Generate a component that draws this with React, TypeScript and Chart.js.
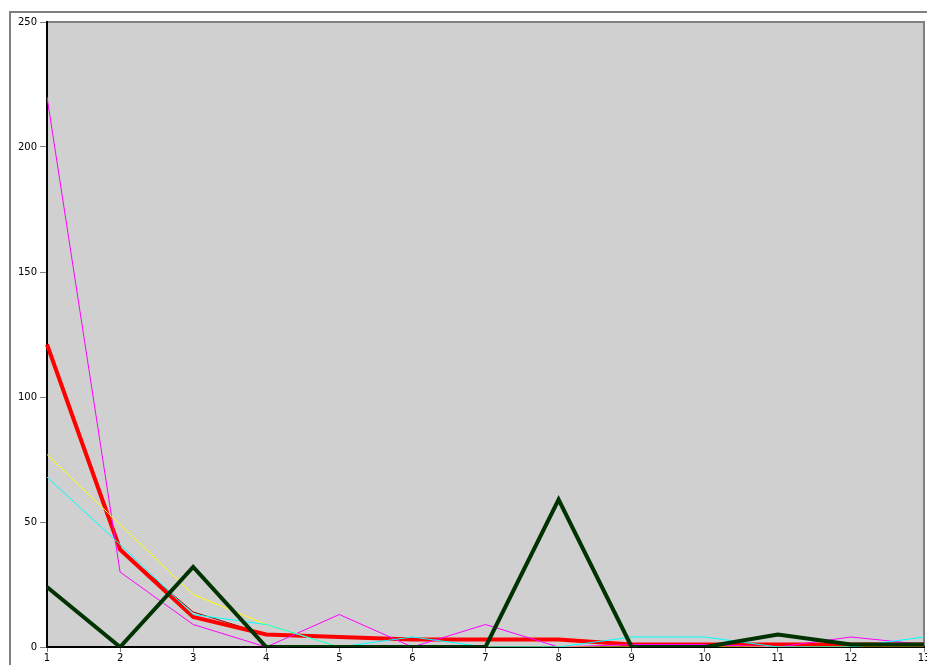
import React, { useEffect, useRef } from "react";
import { Chart, registerables } from "chart.js";

Chart.register(...registerables);

const categories = ["1", "2", "3", "4", "5", "6", "7", "8", "9", "10", "11", "12", "13"];
const yTicks = [0, 50, 100, 150, 200, 250];

const magentaValues = [220, 30, 9, 0, 13, 0, 9, 0, 1, 1, 0, 4, 1];
const yellowValues = [77, 49, 21, 9, 0, 0, 0, 0, 0, 0, 0, 0, 0];
const cyanValues = [68, 41, 13, 9, 0, 4, 0, 0, 4, 4, 0, 0, 4];
const darkRedValues = [121, 39, 14, 5, 4, 3, 3, 3, 1, 1, 1, 1, 1];
const redValues = [121, 39, 12, 5, 4, 3, 3, 3, 1, 1, 1, 1, 1];
const greenValues = [24, 0, 32, 0, 0, 0, 0, 59, 0, 0, 5, 1, 1];

const plotFrame = {
  id: "plotFrame",
  beforeDraw(chart: any) {
    const { ctx, chartArea } = chart;
    ctx.save();
    ctx.fillStyle = "#d0d0d0";
    ctx.fillRect(chartArea.left, chartArea.top, chartArea.right - chartArea.left, chartArea.bottom - chartArea.top);
    ctx.strokeStyle = "#808080";
    ctx.lineWidth = 2;
    ctx.beginPath();
    ctx.moveTo(chartArea.left, chartArea.top);
    ctx.lineTo(chartArea.right, chartArea.top);
    ctx.lineTo(chartArea.right, chartArea.bottom);
    ctx.stroke();
    ctx.restore();
  },
};

export default function App() {
  const ref = useRef<HTMLCanvasElement | null>(null);

  useEffect(() => {
    if (!ref.current) return;
    const mk = (data: number[], color: string, width: number, order: number) => ({
      data,
      borderColor: color,
      backgroundColor: color,
      borderWidth: width,
      pointRadius: 0,
      tension: 0,
      fill: false,
      order,
    });
    const chart = new Chart(ref.current, {
      type: "line",
      data: {
        labels: categories,
        datasets: [
          mk(greenValues, "#003300", 4, 0),
          mk(cyanValues, "#00ffff", 1, 1),
          mk(yellowValues, "#ffff00", 1, 2),
          mk(magentaValues, "#ff00ff", 1, 3),
          mk(redValues, "#ff0000", 4, 5),
          mk(darkRedValues, "#8b0000", 1, 6),
        ] as any,
      },
      options: {
        animation: false,
        responsive: false,
        devicePixelRatio: 1,
        layout: { padding: { top: 22, right: 3, bottom: 0, left: 0 } },
        plugins: { legend: { display: false }, tooltip: { enabled: false } },
        scales: {
          x: {
            type: "category",
            offset: false,
            grid: { drawOnChartArea: false, tickLength: 5, tickColor: "#808080" },
            border: { color: "#000000", width: 2 },
            ticks: {
              color: "#000",
              font: { family: "DejaVu Sans", size: 10 },
              padding: 0,
              maxRotation: 0,
              autoSkip: false,
            },
            afterFit(scale: any) {
              scale.height = 18;
              scale.paddingLeft = 0;
              scale.paddingRight = 0;
            },
          },
          y: {
            type: "linear",
            min: 0,
            max: 250,
            afterBuildTicks(scale: any) {
              scale.ticks = yTicks.map((v) => ({ value: v }));
            },
            grid: { drawOnChartArea: false, tickLength: 7, tickColor: "#808080" },
            border: { color: "#000000", width: 2 },
            ticks: {
              color: "#000",
              font: { family: "DejaVu Sans", size: 10 },
              padding: 3,
            },
            afterFit(scale: any) {
              scale.width = 47;
              scale.paddingTop = 0;
              scale.paddingBottom = 0;
            },
          },
        },
      },
      plugins: [plotFrame],
    });
    return () => chart.destroy();
  }, []);

  return (
    <div
      style={{
        position: "fixed",
        left: 0,
        top: 0,
        width: 927,
        height: 665,
        overflow: "hidden",
        background: "#ffffff",
      }}
    >
      <div
        style={{
          position: "absolute",
          left: 9,
          top: 11,
          width: 1000,
          height: 1000,
          border: "2px solid #808080",
        }}
      />
      <canvas ref={ref} width={927} height={665} style={{ position: "absolute", left: 0, top: 0 }} />
    </div>
  );
}
